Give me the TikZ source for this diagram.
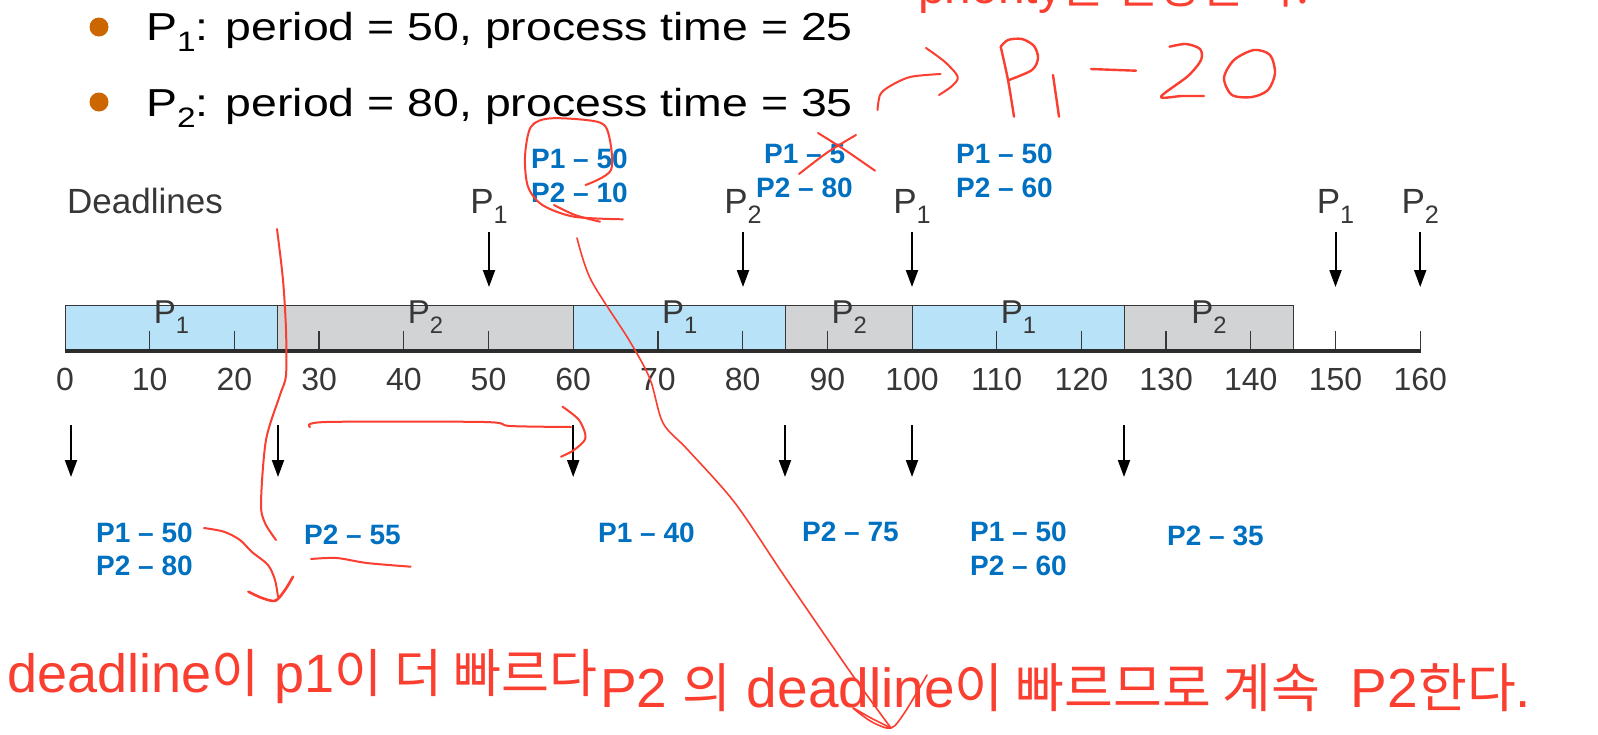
\documentclass[tikz,border=0pt]{standalone}
\usepackage{fontspec}
\setmainfont{Liberation Sans}
\newfontfamily\krf[Scale=0.965]{Noto Sans CJK KR}
\newcommand{\kr}[1]{{\krf #1}}
\newcommand{\fs}[1]{\fontsize{#1}{#1}\selectfont}
\newcommand{\Psub}[1]{P\raisebox{-0.3em}{\scalebox{0.72}{#1}}}
\newcommand{\wide}[1]{\scalebox{1.19}[1]{#1}}
\usetikzlibrary{arrows.meta}
\definecolor{pblue}{RGB}{184,226,248}
\definecolor{pgray}{RGB}{210,211,213}
\definecolor{lblue}{RGB}{0,112,192}
\definecolor{hred}{RGB}{250,62,48}
\definecolor{borange}{RGB}{204,102,0}
\definecolor{dgray}{RGB}{55,55,55}
\tikzset{
  txt/.style={inner sep=0pt, anchor=base west},
  blab/.style={inner sep=0pt, anchor=base west, text=lblue, font=\fs{28}\bfseries},
  glab/.style={inner sep=0pt, anchor=base, text=dgray, font=\fs{35}},
  seglab/.style={inner sep=0pt, anchor=base, text=dgray, font=\fs{33}},
  num/.style={inner sep=0pt, anchor=base, text=dgray, font=\fs{32}},
  seg/.style={draw=dgray, line width=1.2pt, minimum height=47pt, inner sep=0pt, anchor=north west},
  tickmark/.style={draw=dgray, line width=1.3pt},
  darr/.style={draw=black, line width=2pt, -{Triangle[length=17pt,width=12pt]}},
  hand/.style={draw=hred, line width=2pt, line cap=round, line join=round},
  redtxt/.style={inner sep=0pt, anchor=base west, text=hred},
}
\begin{document}
\begin{tikzpicture}[x=1pt,y=-1pt]
\useasboundingbox (0,0) rectangle (1598,734);
\clip (0,0) rectangle (1598,734);
\fill[white] (0,0) rectangle (1598,734);

% partly visible top red note
\node[redtxt] (topnote) at (918,3) {\fs{48}priority\kr{는 변경된 다.}};

% bullets
\fill[borange] (99,27) circle (9.5pt);
\fill[borange] (99,102) circle (9.5pt);
\node[txt] (b1) at (146,40) {\fs{39}\wide{\Psub{1}: period = 50, process time = 25}};
\node[txt] (b2) at (146,116) {\fs{39}\wide{\Psub{2}: period = 80, process time = 35}};

% deadlines header
\node[txt, text=dgray] (dl) at (67,213) {\fs{35}Deadlines};
\node[glab] (u1) at (489,213) {\Psub{1}};
\node[glab] (u2) at (743,213) {\Psub{2}};
\node[glab] (u3) at (912,213) {\Psub{1}};
\node[glab] (u4) at (1335.5,213) {\Psub{1}};
\node[glab] (u5) at (1420.2,213) {\Psub{2}};
\foreach \n/\x in {1/489,2/743,3/912,4/1335.5,5/1420.2}{
  \coordinate (ua\n) at (\x,232);
  \coordinate (ub\n) at (\x,287);
  \draw[darr] (ua\n) -- (ub\n);
}

% top blue labels
\node[blab] (t1a) at (531,168) {P1 – 50};
\node[blab] (t1b) at (531,202) {P2 – 10};
\node[blab] (t2a) at (764,163) {P1 – 5};
\node[blab] (t2b) at (756,197) {P2 – 80};
\node[blab] (t3a) at (956,163) {P1 – 50};
\node[blab] (t3b) at (956,197) {P2 – 60};

% timeline bar
\node[seg, fill=pblue, minimum width=211.75pt] (s1) at (65,305) {};
\node[seg, fill=pgray, minimum width=296.45pt] (s2) at (276.75,305) {};
\node[seg, fill=pblue, minimum width=211.75pt] (s3) at (573.2,305) {};
\node[seg, fill=pgray, minimum width=127.05pt] (s4) at (785,305) {};
\node[seg, fill=pblue, minimum width=211.75pt] (s5) at (912,305) {};
\node[seg, fill=pgray, minimum width=169.4pt] (s6) at (1123.75,305) {};
\foreach \t in {10,20,30,40,50,70,80,90,110,120,130,140,150,160}
  \draw[tickmark] ({65+8.47*\t},351) -- ++(0,-20);
\coordinate (axl) at (65,351);
\coordinate (axr) at (1421,351);
\draw[line width=4pt, draw=dgray!80!black] (axl) -- (axr);
\node[seglab] (l1) at ([yshift=6pt]s1.center) {\Psub{1}};
\node[seglab] (l2) at ([yshift=6pt]s2.center) {\Psub{2}};
\node[seglab] (l3) at ([yshift=6pt]s3.center) {\Psub{1}};
\node[seglab] (l4) at ([yshift=6pt]s4.center) {\Psub{2}};
\node[seglab] (l5) at ([yshift=6pt]s5.center) {\Psub{1}};
\node[seglab] (l6) at ([yshift=6pt]s6.center) {\Psub{2}};
\foreach \t in {0,10,...,160}
  \node[num] (n\t) at ({65+8.47*\t},390) {\t};

% lower arrows
\foreach \n/\x in {1/71,2/278,3/573.2,4/785,5/912,6/1124}{
  \coordinate (da\n) at (\x,425);
  \coordinate (db\n) at (\x,477);
  \draw[darr] (da\n) -- (db\n);
}

% lower blue labels
\node[blab] (d1a) at (96,542) {P1 – 50};
\node[blab] (d1b) at (96,575) {P2 – 80};
\node[blab] (d2) at (304,544) {P2 – 55};
\node[blab] (d3) at (598,542) {P1 – 40};
\node[blab] (d4) at (802,541) {P2 – 75};
\node[blab] (d5a) at (970,541) {P1 – 50};
\node[blab] (d5b) at (970,575) {P2 – 60};
\node[blab] (d6) at (1167,545) {P2 – 35};

% red notes
\node[redtxt] (r1) at (7,692) {\fs{54}deadline\kr{이} p1\kr{이 더 빠르다}};
\node[redtxt] (r2) at (600,707) {\fs{55}P2 \kr{의} deadline\kr{이 빠르므로 계속}\ \ P2\kr{한다}.};

% handwritten strokes
\draw[hand] plot[smooth] coordinates {(877.5,110) (880,95) (889,86.7) (910,77) (940.5,74)};
\draw[hand] plot[smooth] coordinates {(926,48) (945,62) (957.7,76.7) (952,86) (939,95)};
\draw[hand, line width=2.4pt] plot[smooth] coordinates {(1014,116.7) (1008,80) (1000.7,46.7)};
\draw[hand, line width=2.4pt] plot[smooth] coordinates {(1000.7,46.7) (1008,40) (1022,39) (1034,46) (1038,58) (1032,70) (1009,80)};
\draw[hand, line width=2.4pt] plot[smooth] coordinates {(1053,75) (1059,116.7)};
\draw[hand, line width=2.4pt] plot[smooth] coordinates {(1091,69) (1136,70.7)};
\draw[hand, line width=2.4pt] plot[smooth] coordinates {(1169.6,46.7) (1186,44) (1200,49) (1201,60) (1188,76) (1161,96.7) (1182,96) (1204,96)};
\draw[hand, line width=2.4pt] plot[smooth cycle] coordinates {(1254,50) (1270,55) (1275,73) (1268,90) (1252,97) (1232,95) (1224,78) (1234,60)};
% cross over 5
\draw[hand] plot[smooth] coordinates {(818,133) (845,150) (875,170.7)};
\draw[hand] plot[smooth] coordinates {(799,174) (828,152) (856,135)};
% loop around P1-50 / P2-10
\draw[hand] plot[smooth] coordinates {(585.5,185) (611,170) (608.4,133.3) (597,121.7) (551,118.3) (531,126.7) (525,156.7) (528,186.7) (542.4,205) (574,216.7) (622.8,219.3)};
\draw[hand] plot[smooth] coordinates {(554,205) (575,215) (600,221.7)};
% long diagonal with loop
\draw[hand, line width=1.6pt] plot[smooth] coordinates {(577,238) (591,280) (629,340) (650,379) (663,423) (688,450) (735,503) (785,577) (851,673) (891,728)};
\draw[hand, line width=1.6pt] plot[smooth] coordinates {(891,728) (871,718) (853,708) (872,722) (891,728) (905,712) (927,675)};
% vertical stroke at 25
\draw[hand] plot[smooth] coordinates {(277,229) (283,280) (286,330) (286,375) (280,395) (266,440) (261,503) (265,523) (276,540)};
% arrow from P1 - 50
\draw[hand] plot[smooth] coordinates {(204,528) (224,531.7) (240,540) (252,552) (268,565) (275,580) (278,597)};
\draw[hand, line width=2.6pt] plot[smooth] coordinates {(248.4,591.7) (262,598) (275.4,600.7) (285,590) (293,576.7)};
% underline under P2 - 55
\draw[hand] plot[smooth] coordinates {(311,559) (336.6,558) (367,563) (410.6,566.7)};
% arrow from 25 to 60
\draw[hand] plot[smooth] coordinates {(310,427) (326,422) (484.5,422) (510,426) (571,427)};
\draw[hand] plot[smooth] coordinates {(562.5,406.7) (579,420) (585.5,438) (574,450) (561,456.7)};
\end{tikzpicture}
\end{document}
